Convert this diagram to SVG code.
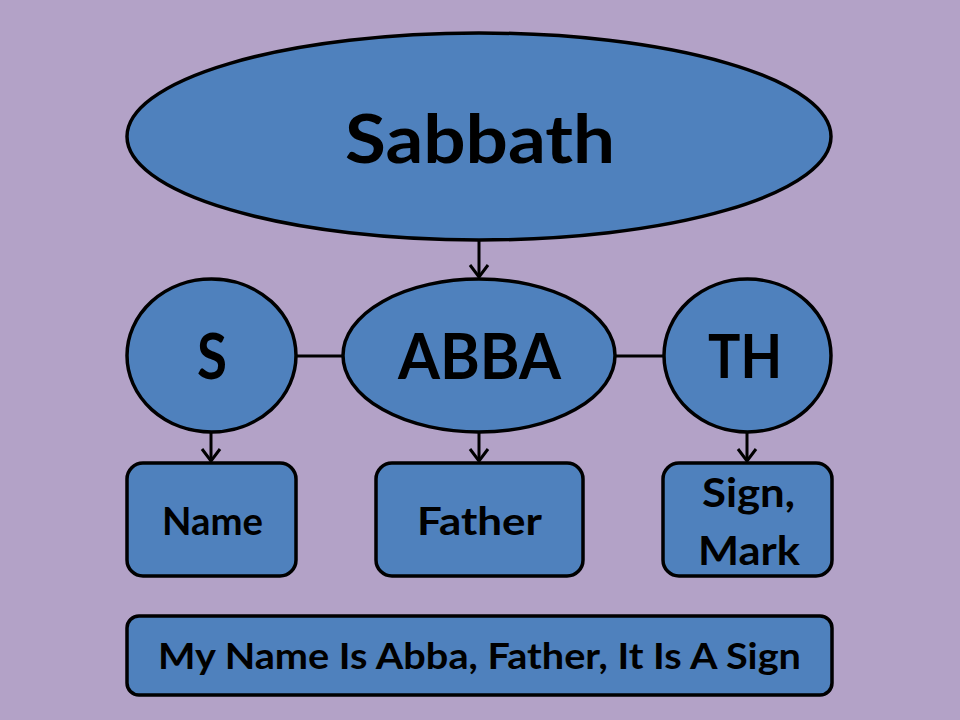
<svg xmlns="http://www.w3.org/2000/svg" width="960" height="720" viewBox="0 0 960 720">
  <style>
    .shape { fill: #4F81BD; stroke: #000000; stroke-width: 3.5; }
    .lbl { font-family: Lato, "Open Sans", sans-serif; font-weight: bold; fill: #000000; }
    .conn { stroke: #000000; stroke-width: 3; fill: none; }
  </style>
  <defs>
    <marker id="arrow" markerUnits="userSpaceOnUse" viewBox="-16 -12 18 24" refX="0" refY="0" markerWidth="18" markerHeight="24" orient="auto">
      <path d="M-12,-9 L0,0 L-12,9" fill="none" stroke="#000000" stroke-width="3"/>
    </marker>
  </defs>
  <rect x="0" y="0" width="960" height="720" fill="#B3A2C7"/>

  <g id="connectors">
    <line class="conn" x1="479" y1="240" x2="479" y2="277" marker-end="url(#arrow)"/>
    <line class="conn" x1="296" y1="356" x2="343" y2="356"/>
    <line class="conn" x1="615" y1="356" x2="664" y2="356"/>
    <line class="conn" x1="211" y1="432" x2="211" y2="461" marker-end="url(#arrow)"/>
    <line class="conn" x1="479" y1="432" x2="479" y2="461" marker-end="url(#arrow)"/>
    <line class="conn" x1="747" y1="432" x2="747" y2="461" marker-end="url(#arrow)"/>
  </g>

  <g id="sabbath">
    <ellipse class="shape" cx="479" cy="136.5" rx="352" ry="103.5"/>
    <text class="lbl" x="345" y="163" font-size="67" textLength="270" lengthAdjust="spacingAndGlyphs">Sabbath</text>
  </g>

  <g id="s">
    <ellipse class="shape" cx="211.5" cy="355.5" rx="84.5" ry="76.5"/>
    <text class="lbl" x="197" y="379" font-size="63" textLength="30" lengthAdjust="spacingAndGlyphs">S</text>
  </g>

  <g id="abba">
    <ellipse class="shape" cx="479" cy="355.5" rx="136" ry="76.5"/>
    <text class="lbl" x="398" y="379" font-size="63" textLength="163" lengthAdjust="spacingAndGlyphs">ABBA</text>
  </g>

  <g id="th">
    <ellipse class="shape" cx="747.5" cy="355.5" rx="83.5" ry="76.5"/>
    <text class="lbl" x="708" y="378" font-size="62" textLength="74" lengthAdjust="spacingAndGlyphs">TH</text>
  </g>

  <g id="name">
    <rect class="shape" x="127" y="463" width="169" height="113" rx="16" ry="16"/>
    <text class="lbl" x="162" y="535" font-size="38" textLength="101" lengthAdjust="spacingAndGlyphs">Name</text>
  </g>

  <g id="father">
    <rect class="shape" x="376" y="463" width="207" height="113" rx="16" ry="16"/>
    <text class="lbl" x="417" y="535" font-size="39" textLength="125" lengthAdjust="spacingAndGlyphs">Father</text>
  </g>

  <g id="sign">
    <rect class="shape" x="663" y="463" width="169" height="113" rx="16" ry="16"/>
    <text class="lbl" x="702" y="507" font-size="40" textLength="93" lengthAdjust="spacingAndGlyphs">Sign,</text>
    <text class="lbl" x="698" y="565" font-size="40" textLength="102" lengthAdjust="spacingAndGlyphs">Mark</text>
  </g>

  <g id="summary">
    <rect class="shape" x="127" y="616" width="705" height="79" rx="12" ry="12"/>
    <text class="lbl" x="158" y="669" font-size="36" textLength="643" lengthAdjust="spacingAndGlyphs">My Name Is Abba, Father, It Is A Sign</text>
  </g>
</svg>
